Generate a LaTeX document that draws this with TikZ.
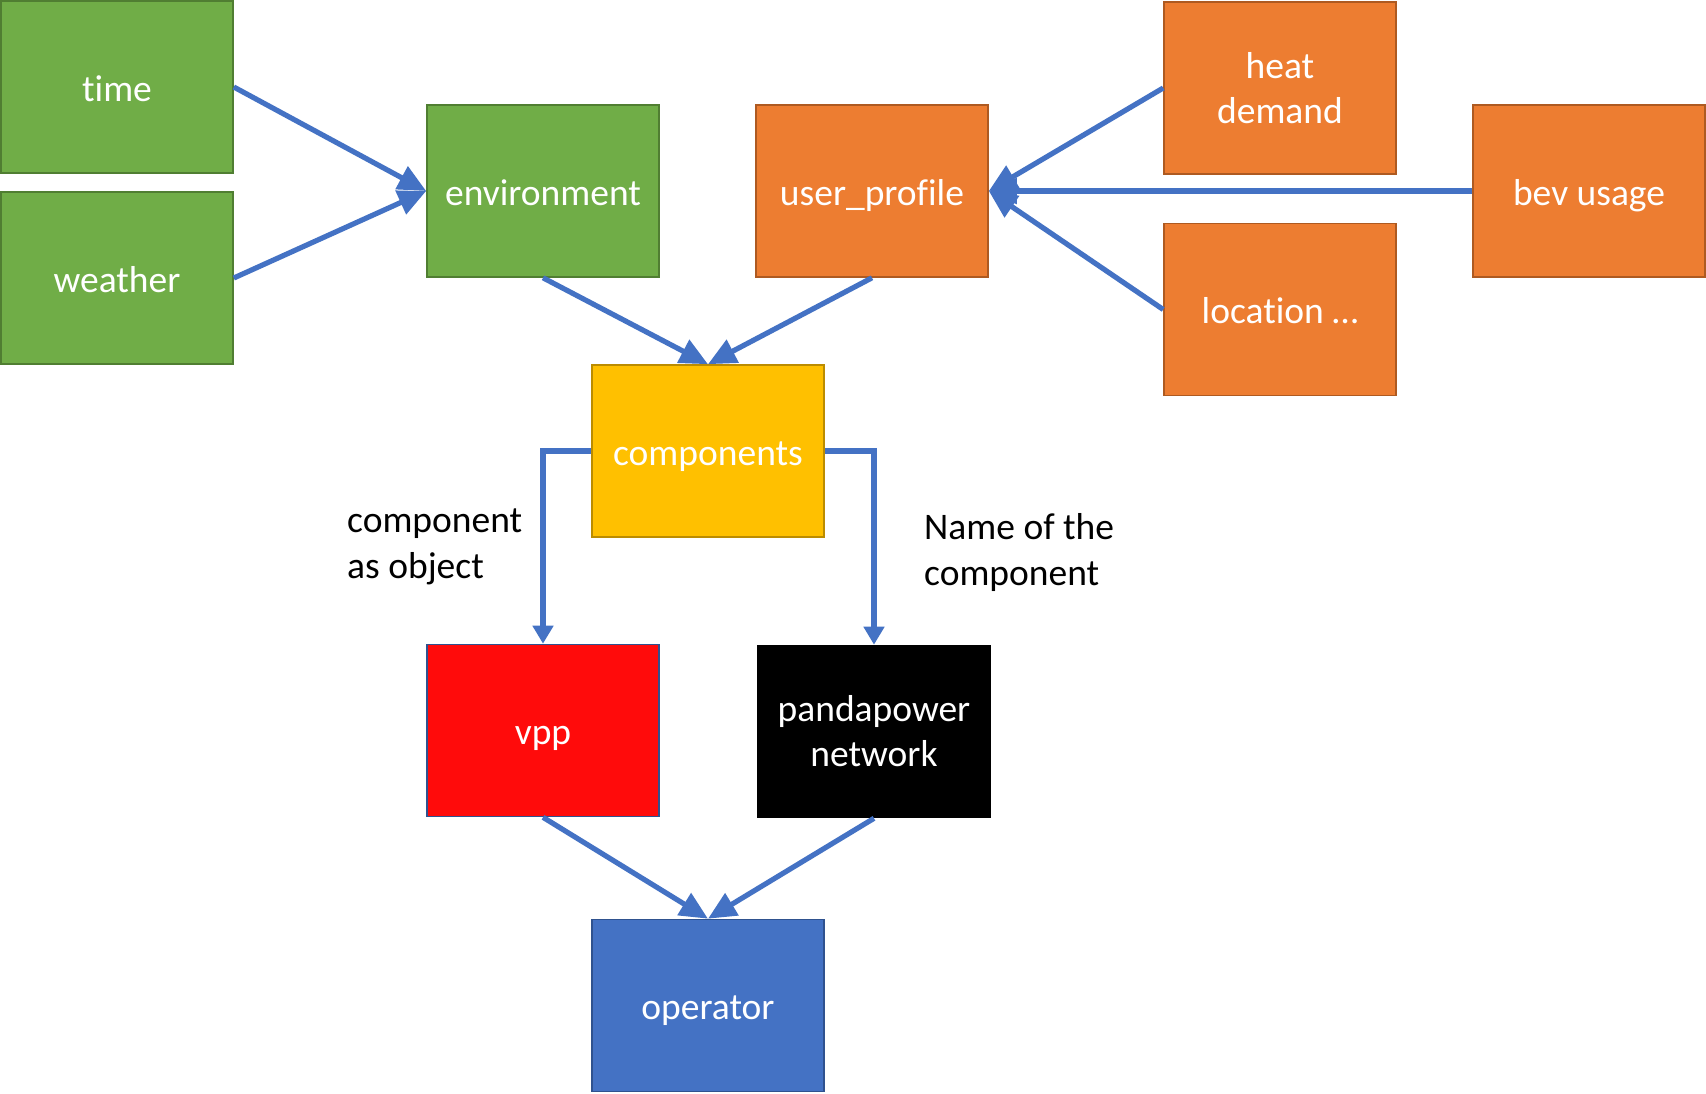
\documentclass[tikz,border=0pt]{standalone}
\usepackage{fontspec}
\setmainfont[Ligatures=NoCommon]{Carlito}
\usetikzlibrary{arrows.meta}
\definecolor{gfill}{HTML}{70AD47}
\definecolor{gline}{HTML}{507E32}
\definecolor{ofill}{HTML}{ED7D31}
\definecolor{oline}{HTML}{AE5A21}
\definecolor{yfill}{HTML}{FFC000}
\definecolor{yline}{HTML}{BC8C00}
\definecolor{rfill}{HTML}{FF0B0B}
\definecolor{bline}{HTML}{2F528F}
\definecolor{bfill}{HTML}{4472C4}
\definecolor{arrowblue}{HTML}{4472C4}
\begin{document}
\begin{tikzpicture}[x=1pt,y=-1pt,
  box/.style={draw, line width=1.6pt, minimum width=232pt, minimum height=172pt,
    inner sep=0pt, text=white, align=center,
    font=\fontsize{37.5}{45}\selectfont},
  oneline/.style={text height=28pt, text depth=0pt},
  greenbox/.style={box, fill=gfill, draw=gline},
  orangebox/.style={box, fill=ofill, draw=oline},
  note/.style={inner sep=0pt, anchor=west, align=left, text=black,
    font=\fontsize{37.5}{46}\selectfont},
  conn/.style={draw=arrowblue, line width=5.2pt, -{Triangle[length=28pt,width=25pt]}},
  vconn/.style={draw=arrowblue, line width=5.2pt, -{Triangle[length=18pt,width=20pt]}}
]
\useasboundingbox[fill=white] (0,0) rectangle (1706,1093);

\node[greenbox, oneline] (time) at (117,87) {time};
\node[greenbox, oneline] (weather) at (117,278) {weather};
\node[greenbox, oneline] (env) at (543,191) {environment};
\node[orangebox, oneline] (user) at (872,191) {user\_profile};
\node[orangebox] (heat) at (1280,88) {heat\\demand};
\node[orangebox, oneline] (bev) at (1589,191) {bev usage};
\node[orangebox, oneline] (loc) at (1280,309.5) {location \dots};
\node[box, oneline, fill=yfill, draw=yline] (comp) at (708,451) {components};
\node[box, oneline, fill=rfill, draw=bline] (vpp) at (543,730.5) {vpp};
\node[box, fill=black, draw=black] (pp) at (874,731.5) {pandapower\\network};
\node[box, oneline, fill=bfill, draw=bline] (op) at (708,1005.5) {operator};

\node[note] (lblobj) at (347,547) {component\\as object};
\node[note] (lblname) at (924,552) {Name of the\\component};

\draw[conn] (time.east) -- (env.west);
\draw[conn] (weather.east) -- (env.west);
\draw[conn] (env.south) -- (comp.north);
\draw[conn] (user.south) -- (comp.north);
\draw[conn] (heat.west) -- (user.east);
\draw[conn] (bev.west) -- (user.east);
\draw[conn] (loc.west) -- (user.east);
\draw[vconn] (comp.west) -| (vpp.north);
\draw[vconn] (comp.east) -| (pp.north);
\draw[conn] (vpp.south) -- (op.north);
\draw[conn] (pp.south) -- (op.north);
\end{tikzpicture}
\end{document}
